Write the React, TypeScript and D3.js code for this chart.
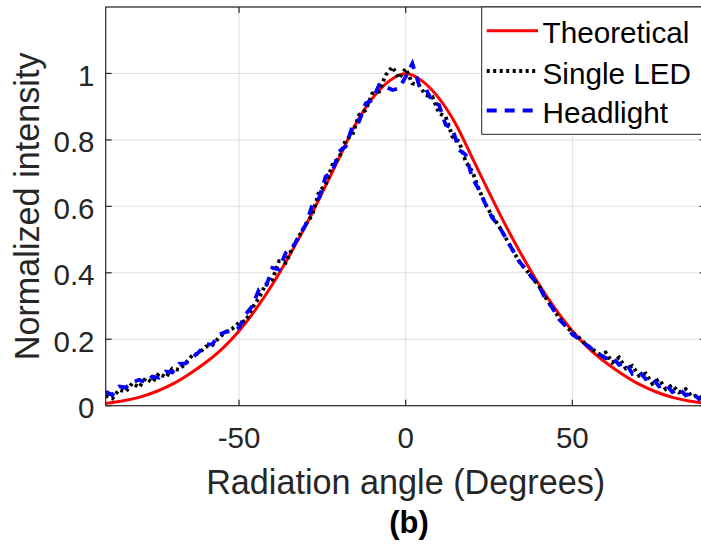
import React from 'react'
import * as d3 from 'd3'

// theoretical curve, read every 5 degrees
const theoAngles = [-90, -85, -80, -75, -70, -65, -60, -55, -50, -45, -40, -35, -30, -25, -20, -15, -10, -5, 0,
  5, 10, 15, 20, 25, 30, 35, 40, 45, 50, 55, 60, 65, 70, 75, 80, 85, 90]
const theoretical = [0.007, 0.014, 0.025, 0.042, 0.065, 0.095, 0.13, 0.172, 0.225, 0.29, 0.365, 0.45, 0.542, 0.642, 0.745, 0.848, 0.925, 0.977, 1.0,
  0.977, 0.925, 0.848, 0.745, 0.642, 0.542, 0.45, 0.365, 0.29, 0.225, 0.172, 0.13, 0.095, 0.065, 0.042, 0.025, 0.014, 0.007]

// measured curves, read every 2 degrees
const measAngles = [-90, -88, -86, -84, -82, -80, -78, -76, -74, -72, -70, -68, -66, -64, -62, -60, -58, -56, -54, -52,
  -50, -48, -46, -44, -42, -40, -38, -36, -34, -32, -30, -28, -26, -24, -22, -20, -18, -16, -14, -12,
  -10, -8, -6, -4, -2, 0, 2, 4, 6, 8, 10, 12, 14, 16, 18, 20, 22, 24, 26, 28,
  30, 32, 34, 36, 38, 40, 42, 44, 46, 48, 50, 52, 54, 56, 58, 60, 62, 64, 66, 68,
  70, 72, 74, 76, 78, 80, 82, 84, 86, 88, 90]
const singleLED = [0.03, 0.022, 0.048, 0.042, 0.068, 0.055, 0.083, 0.07, 0.098, 0.085, 0.112, 0.108, 0.128, 0.152, 0.158, 0.178, 0.182, 0.205, 0.222, 0.232,
  0.25, 0.255, 0.295, 0.325, 0.365, 0.38, 0.435, 0.43, 0.475, 0.51, 0.545, 0.575, 0.645, 0.665, 0.725, 0.745, 0.8, 0.815, 0.875, 0.89,
  0.94, 0.945, 0.995, 1.02, 0.985, 1.015, 0.97, 0.965, 0.935, 0.93, 0.88, 0.87, 0.81, 0.795, 0.735, 0.705, 0.65, 0.605, 0.57, 0.54,
  0.505, 0.47, 0.435, 0.41, 0.385, 0.36, 0.325, 0.295, 0.265, 0.24, 0.22, 0.205, 0.185, 0.17, 0.155, 0.16, 0.13, 0.145, 0.112, 0.12,
  0.09, 0.097, 0.066, 0.08, 0.05, 0.062, 0.04, 0.05, 0.027, 0.032, 0.012]
const headlight = [0.042, 0.032, 0.058, 0.055, 0.07, 0.078, 0.07, 0.088, 0.084, 0.103, 0.1, 0.126, 0.127, 0.145, 0.162, 0.184, 0.185, 0.214, 0.222, 0.225,
  0.235, 0.275, 0.3, 0.35, 0.355, 0.415, 0.41, 0.46, 0.475, 0.51, 0.545, 0.605, 0.625, 0.69, 0.705, 0.765, 0.78, 0.84, 0.855, 0.91,
  0.92, 0.965, 0.96, 0.95, 0.955, 0.99, 1.03, 0.965, 0.955, 0.915, 0.905, 0.845, 0.835, 0.77, 0.755, 0.685, 0.65, 0.605, 0.565, 0.54,
  0.505, 0.47, 0.435, 0.41, 0.385, 0.36, 0.32, 0.295, 0.26, 0.24, 0.215, 0.2, 0.185, 0.17, 0.155, 0.143, 0.147, 0.123, 0.13, 0.096,
  0.104, 0.08, 0.083, 0.058, 0.064, 0.041, 0.052, 0.031, 0.04, 0.02, 0.028]

const xTicks = [-50, 0, 50]
const yTicks = [0, 0.2, 0.4, 0.6, 0.8, 1]
const legendLabels = ['Theoretical', 'Single LED', 'Headlight']

const W = 701
const H = 546
const margin = { left: 105.7, right: 705.7, top: 7, bottom: 405.7 }
const font = '"Liberation Sans", Arial, Helvetica, sans-serif'
const axisColor = '#262626'

export default function App() {
  const x = d3.scaleLinear().domain([-90, 90]).range([margin.left, margin.right])
  const y = d3.scaleLinear().domain([0, 1.2]).range([margin.bottom, margin.top])

  const line = d3.line<[number, number]>().x(d => x(d[0])).y(d => y(d[1]))
  const smooth = d3.line<[number, number]>().x(d => x(d[0])).y(d => y(d[1])).curve(d3.curveMonotoneX)

  const theoPath = smooth(theoAngles.map((a, i) => [a, theoretical[i]]))
  const ledPath = line(measAngles.map((a, i) => [a, singleLED[i]]))
  const headPath = line(measAngles.map((a, i) => [a, headlight[i]]))

  const styles = [
    { stroke: '#ff0000', width: 3, dash: undefined },
    { stroke: '#000000', width: 3.8, dash: '3 3.5' },
    { stroke: '#0000ff', width: 3.8, dash: '10 8' },
  ]
  const legendY = [30.7, 71, 110.5]

  return (
    <svg width={W} height={H} style={{ position: 'absolute', left: 0, top: 0, background: '#fff' }}>
      <defs>
        <clipPath id="plotArea">
          <rect x={margin.left} y={margin.top} width={margin.right - margin.left} height={margin.bottom - margin.top} />
        </clipPath>
      </defs>
      <rect x={0} y={0} width={W} height={H} fill="#fff" />

      {/* grid */}
      {xTicks.map(t => (
        <line key={'gx' + t} x1={x(t)} x2={x(t)} y1={margin.top} y2={margin.bottom} stroke="#dfdfdf" strokeWidth={1} />
      ))}
      {yTicks.concat([1.2]).map(t => (
        <line key={'gy' + t} x1={margin.left} x2={margin.right} y1={y(t)} y2={y(t)} stroke="#dfdfdf" strokeWidth={1} />
      ))}

      {/* curves */}
      <g clipPath="url(#plotArea)" fill="none">
        <path d={theoPath || ''} stroke={styles[0].stroke} strokeWidth={styles[0].width} />
        <path d={ledPath || ''} stroke={styles[1].stroke} strokeWidth={styles[1].width} strokeDasharray={styles[1].dash} />
        <path d={headPath || ''} stroke={styles[2].stroke} strokeWidth={styles[2].width} strokeDasharray={styles[2].dash} />
      </g>

      {/* axes box */}
      <rect x={margin.left} y={margin.top} width={margin.right - margin.left} height={margin.bottom - margin.top}
        fill="none" stroke={axisColor} strokeWidth={1.2} />
      {xTicks.map(t => (
        <g key={'tx' + t}>
          <line x1={x(t)} x2={x(t)} y1={margin.bottom} y2={margin.bottom - 6} stroke={axisColor} strokeWidth={1.2} />
          <line x1={x(t)} x2={x(t)} y1={margin.top} y2={margin.top + 6} stroke={axisColor} strokeWidth={1.2} />
          <text x={x(t)} y={448.3} textAnchor="middle" fontFamily={font} fontSize={29.5} fill={axisColor}>{t}</text>
        </g>
      ))}
      {yTicks.map(t => (
        <g key={'ty' + t}>
          <line x1={margin.left} x2={margin.left + 6} y1={y(t)} y2={y(t)} stroke={axisColor} strokeWidth={1.2} />
          <line x1={margin.right} x2={margin.right - 6} y1={y(t)} y2={y(t)} stroke={axisColor} strokeWidth={1.2} />
          <text x={94.5} y={y(t) + 12.5} textAnchor="end" fontFamily={font} fontSize={29.5} fill={axisColor}>{t}</text>
        </g>
      ))}

      {/* axis labels */}
      <text x={(margin.left + margin.right) / 2} y={494} textAnchor="middle" fontFamily={font} fontSize={34.2} fill={axisColor}>
        Radiation angle (Degrees)
      </text>
      <text transform={`translate(39,${(margin.top + margin.bottom) / 2}) rotate(-90)`} textAnchor="middle"
        fontFamily={font} fontSize={34.2} fill={axisColor}>
        Normalized intensity
      </text>
      <text x={409} y={533} textAnchor="middle" fontFamily={font} fontSize={31} fontWeight="bold" fill="#000">(b)</text>

      {/* legend */}
      <rect x={481.7} y={margin.top} width={240} height={134.3 - margin.top} fill="#fff" stroke={axisColor} strokeWidth={1} />
      {legendLabels.map((label, i) => (
        <g key={label}>
          <line x1={486.7} x2={538} y1={legendY[i]} y2={legendY[i]} stroke={styles[i].stroke}
            strokeWidth={styles[i].width} strokeDasharray={styles[i].dash} />
          <text x={542.5} y={legendY[i] + 12.5} fontFamily={font} fontSize={29.7} fill="#000">{label}</text>
        </g>
      ))}
    </svg>
  )
}
